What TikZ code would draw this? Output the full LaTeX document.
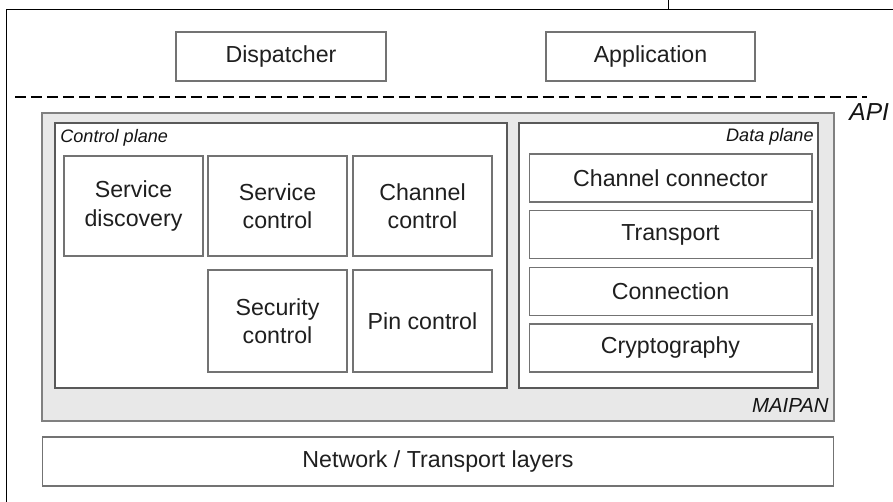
\documentclass[tikz,border=0pt]{standalone}
\usepackage{fontspec}
\setmainfont{Liberation Sans}
\usepackage{tikz}

\begin{document}
\begin{tikzpicture}[x=0.02cm, y=-0.02cm,
    box/.style={draw=black!55, line width=0.6pt, fill=white, inner sep=0pt,
      align=center, text=black!88, font=\fontsize{13.2}{16}\selectfont},
    plane/.style={draw=black!65, line width=0.7pt, fill=white, inner sep=0pt},
    tag/.style={inner sep=0pt, text=black!92, font=\fontsize{10.3}{12}\selectfont\itshape}]
  \useasboundingbox (0, 0) rectangle (893, 502);

  % page frame
  \draw[line width=0.5pt] (6, 502)--(6, 9)--(893, 9);
  \draw[line width=0.5pt] (668, 0)--(668, 9);

  % upper layer
  \node [box, minimum width=4.2cm, minimum height=0.98cm] (disp) at (281, 56.5){Dispatcher};
  \node [box, minimum width=4.18cm, minimum height=0.98cm] (app) at (650.5, 56.5){Application};

  % api line
  \coordinate (apil) at (15, 97);
  \coordinate (apir) at (867, 97);
  \draw [line width=1.4pt, dash pattern=on 6.2pt off 2.9pt] (apil)--(apir);
  \node [tag, anchor=west, font=\fontsize{14}{16}\selectfont\itshape] (api) at (849, 112){API};

  % maipan
  \node [draw=black!50, line width=0.8pt, fill=black!9, inner sep=0pt,
    minimum width=15.84cm, minimum height=6.16cm] (maipan) at (438, 267){};
  \node [tag, anchor=east, font=\fontsize{11.6}{13}\selectfont\itshape] (maipantag) at (829, 405){MAIPAN};

  % control plane
  \node [plane, minimum width=9.04cm, minimum height=5.3cm] (ctrl) at (281, 255.5){};
  \node [tag, anchor=west] (ctrltag) at (60, 138){Control plane};
  \node [box, minimum width=2.78cm, minimum height=2cm] (sdisc) at (133.5, 206){Service\\discovery};
  \node [box, minimum width=2.78cm, minimum height=2cm] (sctrl) at (277.5, 206){Service\\control};
  \node [box, minimum width=2.78cm, minimum height=2cm] (chctrl) at (422.5, 206){Channel\\control};
  \node [box, minimum width=2.78cm, minimum height=2.04cm] (secctrl) at (277.5, 321){Security\\control};
  \node [box, minimum width=2.78cm, minimum height=2.04cm] (pinctrl) at (422.5, 321){Pin control};

  % data plane
  \node [plane, minimum width=5.98cm, minimum height=5.3cm] (data) at (668.5, 255.5){};
  \node [tag, anchor=east] (datatag) at (814, 137){Data plane};
  \node [box, minimum width=5.66cm, minimum height=0.96cm] (chconn) at (670.5, 178){Channel connector};
  \node [box, minimum width=5.66cm, minimum height=0.96cm] (transp) at (670.5, 234.5){Transport};
  \node [box, minimum width=5.66cm, minimum height=0.96cm] (conn) at (670.5, 291.5){Connection};
  \node [box, minimum width=5.66cm, minimum height=0.96cm] (crypto) at (670.5, 348){Cryptography};

  % lower layer
  \node [box, minimum width=15.84cm, minimum height=0.98cm] (net) at (438, 461.5){Network / Transport layers};
\end{tikzpicture}
\end{document}
